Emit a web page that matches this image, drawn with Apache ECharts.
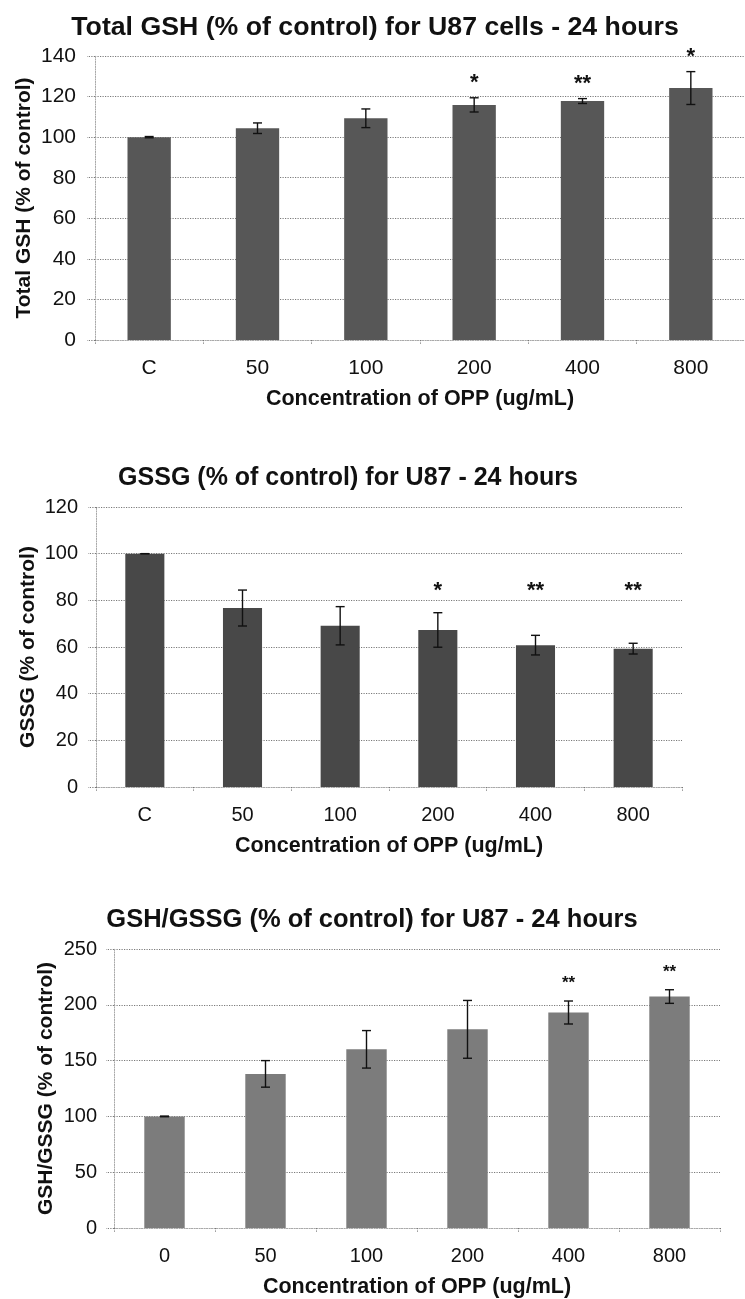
<!DOCTYPE html>
<html>
<head>
<meta charset="utf-8">
<title>GSH / GSSG in U87 cells after 24 hours of OPP</title>
<script src="https://cdn.jsdelivr.net/npm/echarts@6/dist/echarts.min.js"></script>
<style>
  html, body { margin: 0; padding: 0; background: #ffffff; }
  #chart { width: 745px; height: 1299px; }
</style>
</head>
<body>
<div id="chart"></div>
<script>
// Doses of OPP (ug/mL); the control column is labelled "C" in the first two panels
const doseLabelsC = ['C', '50', '100', '200', '400', '800'];
const doseLabels0 = ['0', '50', '100', '200', '400', '800'];

// Total GSH (% of control), mean and error
const totalGsh = [100, 104.4, 109.3, 115.9, 117.8, 124.2];
const totalGshErr = [0.3, 2.6, 4.6, 3.5, 1.2, 8.1];
const totalGshSig = ['', '', '', '*', '**', '*'];

// GSSG (% of control), mean and error
const gssg = [100, 76.7, 69.1, 67.3, 60.8, 59.3];
const gssgErr = [0, 7.7, 8.2, 7.4, 4.2, 2.3];
const gssgSig = ['', '', '', '*', '**', '**'];

// GSH/GSSG ratio (% of control), mean and error
const ratio = [100, 138.1, 160.1, 178.0, 193.1, 207.4];
const ratioErr = [0.3, 11.9, 16.8, 25.9, 10.3, 6.1];
const ratioSig = ['', '', '', '', '**', '**'];

// Axis ranges and tick steps
const yTicks1 = { min: 0, max: 140, interval: 20 };
const yTicks2 = { min: 0, max: 120, interval: 20 };
const yTicks3 = { min: 0, max: 250, interval: 50 };

const FONT = "'Liberation Sans', Arial, Helvetica, sans-serif";
const INK = '#111111';
const GRID_LINE = { color: '#7a7a7a', width: 1, type: [1.2, 1.3] };
const AXIS_LINE = { color: '#a8a8a8', width: 1, type: [1.2, 1.3] };

// Panel layouts (pixel boxes of each plot area)
const panels = [
  {
    title: 'Total GSH (% of control) for U87 cells - 24 hours',
    titleX: 370, titleY: 9, titleSize: 26.7,
    grid: { left: 95, top: 56, width: 657, height: 284 },
    yName: 'Total GSH (% of control)', yNameGap: 60.5,
    ticks: yTicks1, labelSize: 21, yLabelMargin: 19,
    cats: doseLabelsC, mean: totalGsh, err: totalGshErr, sig: totalGshSig,
    color: '#575757', starSize: 22, starGap: 20, starLevel: null
  },
  {
    title: 'GSSG (% of control) for U87 - 24 hours',
    titleX: 343, titleY: 461, titleSize: 25,
    grid: { left: 96, top: 507, width: 586, height: 280 },
    yName: 'GSSG (% of control)', yNameGap: 57.5,
    ticks: yTicks2, labelSize: 20, yLabelMargin: 18,
    cats: doseLabelsC, mean: gssg, err: gssgErr, sig: gssgSig,
    color: '#484848', starSize: 22, starGap: 0, starLevel: 86
  },
  {
    title: 'GSH/GSSG (% of control) for U87 - 24 hours',
    titleX: 367, titleY: 902, titleSize: 25.5,
    grid: { left: 114, top: 949, width: 606, height: 280 },
    yName: 'GSH/GSSG (% of control)', yNameGap: 57.5,
    ticks: yTicks3, labelSize: 20, yLabelMargin: 17,
    cats: doseLabels0, mean: ratio, err: ratioErr, sig: ratioSig,
    color: '#7c7c7c', starSize: 17, starGap: 21, starLevel: null
  }
];

const option = {
  backgroundColor: '#ffffff',
  animation: false,
  title: [],
  grid: [],
  xAxis: [],
  yAxis: [],
  series: []
};

panels.forEach((p, i) => {
  option.title.push({
    text: p.title,
    left: p.titleX,
    top: p.titleY,
    textAlign: 'center',
    textStyle: { fontFamily: FONT, fontWeight: 'bold', fontSize: p.titleSize, color: INK }
  });
  option.grid.push(Object.assign({ containLabel: false }, p.grid));
  option.xAxis.push({
    type: 'category',
    gridIndex: i,
    data: p.cats,
    name: 'Concentration of OPP (ug/mL)',
    nameLocation: 'middle',
    nameGap: 48,
    nameMoveOverlap: false,
    nameTextStyle: { fontFamily: FONT, fontWeight: 'bold', fontSize: 21.5, color: INK },
    axisLine: { show: true, lineStyle: AXIS_LINE },
    axisTick: { show: true, length: 5, alignWithLabel: false, lineStyle: { color: '#777', width: 1, type: [1.2, 1.3] } },
    axisLabel: { fontFamily: FONT, fontSize: p.labelSize, color: INK, margin: 18 },
    splitLine: { show: false }
  });
  option.yAxis.push({
    type: 'value',
    gridIndex: i,
    min: p.ticks.min,
    max: p.ticks.max,
    interval: p.ticks.interval,
    name: p.yName,
    nameLocation: 'middle',
    nameGap: p.yNameGap,
    nameMoveOverlap: false,
    nameRotate: 90,
    nameTextStyle: { fontFamily: FONT, fontWeight: 'bold', fontSize: 21, color: INK },
    axisLine: { show: true, lineStyle: AXIS_LINE },
    axisTick: { show: true, length: 8, lineStyle: GRID_LINE },
    axisLabel: { fontFamily: FONT, fontSize: p.labelSize, color: INK, margin: p.yLabelMargin },
    splitLine: { show: true, lineStyle: GRID_LINE }
  });
  option.series.push({
    type: 'bar',
    xAxisIndex: i,
    yAxisIndex: i,
    barWidth: '40%',
    data: p.mean,
    itemStyle: { color: p.color },
    z: 2
  });
  // Error bars with caps, plus the significance stars above them
  option.series.push({
    type: 'custom',
    xAxisIndex: i,
    yAxisIndex: i,
    clip: false,
    z: 5,
    data: p.mean.map((m, k) => [k, m, p.err[k]]),
    renderItem: (params, api) => {
      const k = api.value(0);
      const m = api.value(1);
      const e = api.value(2);
      const top = api.coord([k, m + e]);
      const bot = api.coord([k, m - e]);
      const cap = 4.5;
      const line = { stroke: '#111', lineWidth: 1.4 };
      const children = [
        { type: 'line', shape: { x1: top[0], y1: top[1], x2: bot[0], y2: bot[1] }, style: line },
        { type: 'line', shape: { x1: top[0] - cap, y1: top[1], x2: top[0] + cap, y2: top[1] }, style: line },
        { type: 'line', shape: { x1: bot[0] - cap, y1: bot[1], x2: bot[0] + cap, y2: bot[1] }, style: line }
      ];
      const s = p.sig[params.dataIndex];
      if (s) {
        const y = p.starLevel !== null ? api.coord([k, p.starLevel])[1] : top[1] - p.starGap;
        children.push({
          type: 'text',
          style: {
            text: s,
            x: top[0],
            y: y + p.starSize * 0.22,
            align: 'center',
            verticalAlign: 'middle',
            fontFamily: FONT,
            fontWeight: 'bold',
            fontSize: p.starSize,
            fill: '#111'
          }
        });
      }
      return { type: 'group', children };
    }
  });
});

const chart = echarts.init(document.getElementById('chart'), null, { renderer: 'canvas' });
chart.setOption(option);
</script>
</body>
</html>
